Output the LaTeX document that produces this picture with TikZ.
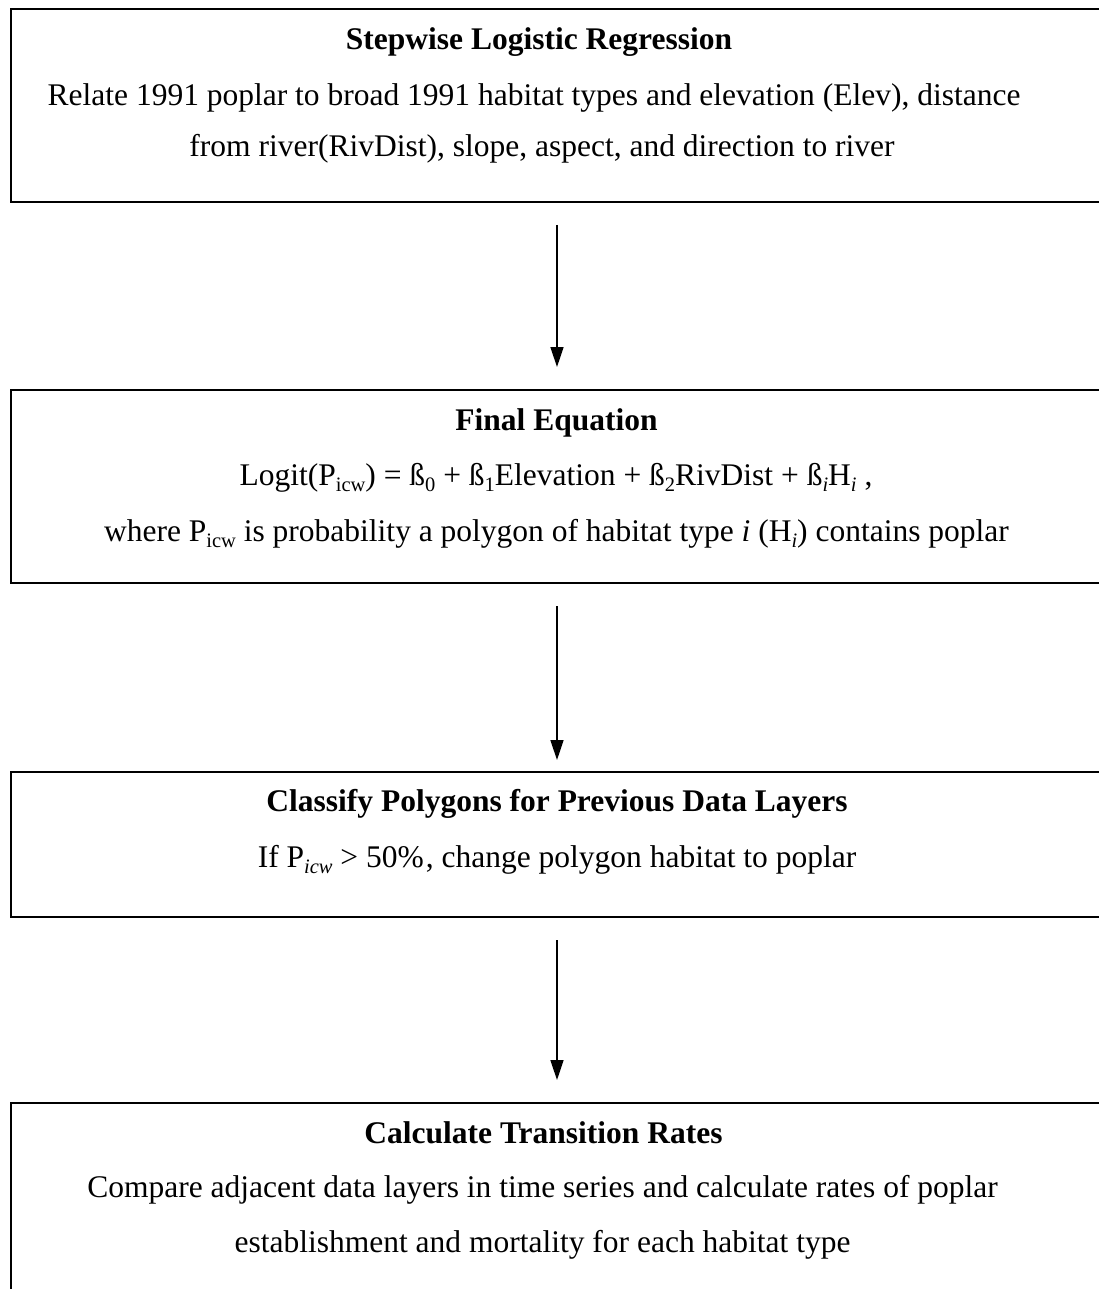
\documentclass[tikz,border=0pt]{standalone}
\usepackage{fontspec}
\setmainfont{Liberation Serif}
\usetikzlibrary{arrows.meta}
\newcommand\sbx[1]{\raisebox{-0.2em}{\fontsize{20.5}{20.5}\selectfont #1}}
\begin{document}
\begin{tikzpicture}[x=1pt,y=-1pt,
  stagebox/.style={draw=black, line width=2pt, rectangle, anchor=north west, inner sep=0pt},
  txt/.style={font=\fontsize{31.5}{38}\selectfont, inner sep=0pt, anchor=base},
  ttl/.style={txt, font=\fontsize{31.5}{38}\selectfont\bfseries},
  flow/.style={-{Triangle[width=13pt,length=20pt]}, line width=1.6pt}]
\useasboundingbox (0,0) rectangle (1098,1289);
\fill[white] (0,0) rectangle (1098,1289);
% boxes
\node[stagebox, minimum width=1110pt, minimum height=193pt] (b1) at (10,8) {};
\node[stagebox, minimum width=1110pt, minimum height=193pt] (b2) at (10,389) {};
\node[stagebox, minimum width=1110pt, minimum height=145pt] (b3) at (10,771) {};
\node[stagebox, minimum width=1110pt, minimum height=230pt] (b4) at (10,1102) {};
% box 1 text
\node[ttl] (t1) at (539,50) {Stepwise Logistic Regression};
\node[txt] (l1a) at (534,106) {Relate 1991 poplar to broad 1991 habitat types and elevation (Elev), distance};
\node[txt] (l1b) at (542,157) {from river(RivDist), slope, aspect, and direction to river};
% box 2 text
\node[ttl] (t2) at (556.5,430) {Final Equation};
\node[txt] (l2a) at (556,485) {Logit(P\sbx{icw}) = ß\sbx{0} + ß\sbx{1}Elevation + ß\sbx{2}RivDist + ß\sbx{\textit{i}}H\sbx{\textit{i}} ,};
\node[txt] (l2b) at (556.5,541) {where P\sbx{icw} is probability a polygon of habitat type \textit{i} (H\sbx{\textit{i}}) contains poplar};
% box 3 text
\node[ttl] (t3) at (557,811) {Classify Polygons for Previous Data Layers};
\node[txt] (l3a) at (557,867) {If P\sbx{\textit{icw}} > 50\%\kern2pt, change polygon habitat to poplar};
% box 4 text
\node[ttl] (t4) at (543.5,1143) {Calculate Transition Rates};
\node[txt] (l4a) at (542.5,1197) {Compare adjacent data layers in time series and calculate rates of poplar};
\node[txt] (l4b) at (542.5,1252) {establishment and mortality for each habitat type};
% arrows
\coordinate (ax) at (557,0);
\draw[flow, shorten <=22pt, shorten >=22pt] (b1.south -| ax) -- (b2.north -| ax);
\draw[flow, shorten <=22pt, shorten >=11pt] (b2.south -| ax) -- (b3.north -| ax);
\draw[flow, shorten <=22pt, shorten >=22pt] (b3.south -| ax) -- (b4.north -| ax);
\end{tikzpicture}
\end{document}
